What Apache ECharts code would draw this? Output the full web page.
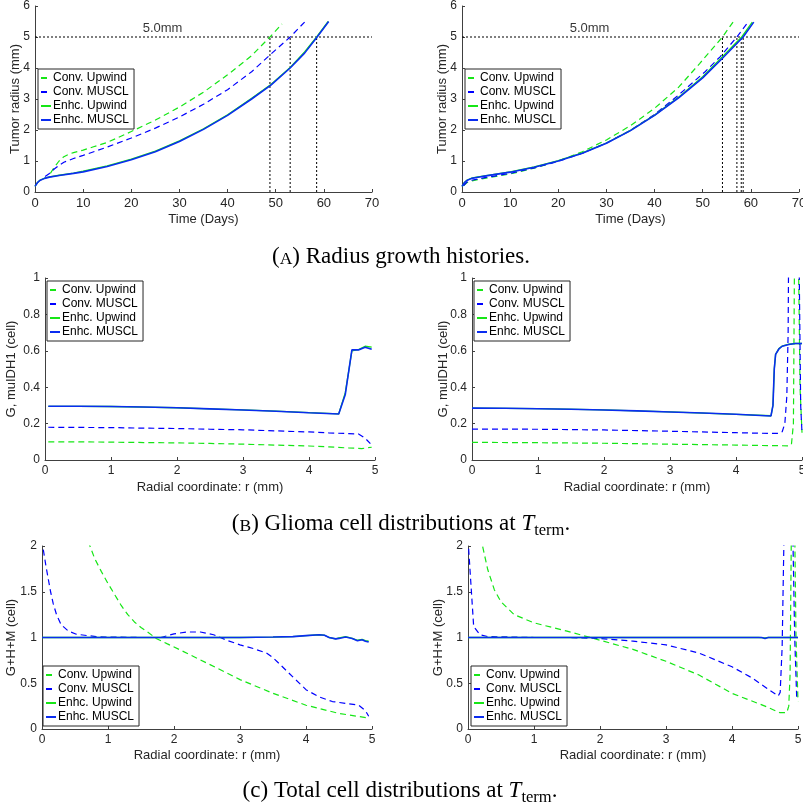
<!DOCTYPE html>
<html>
<head>
<meta charset="utf-8">
<script src="https://cdn.jsdelivr.net/npm/echarts@6/dist/echarts.min.js"></script>
<style>
  html, body { margin: 0; padding: 0; background: #fff; }
  #chart { width: 803px; height: 808px; }
</style>
</head>
<body>
<div id="chart"></div>
<script>
// ---------------- data ----------------
const seriesNames = ['Conv. Upwind', 'Conv. MUSCL', 'Enhc. Upwind', 'Enhc. MUSCL'];

// (A) radius growth histories: [time (days), radius (mm)]
const a1ConvUpwind = [[3.2,0.6],[4,0.8],[5,1.0],[6,1.14],[7,1.22],[8,1.27],[10,1.35],[12,1.45],[15,1.6],[20,1.95],[25,2.32],[30,2.74],[35,3.22],[40,3.78],[45,4.4],[48.8,5.0],[51.3,5.42]];
const a1ConvMuscl  = [[2.1,0.5],[3,0.6],[4,0.74],[5,0.86],[6,0.96],[8,1.08],[10,1.18],[15,1.45],[20,1.74],[25,2.06],[30,2.42],[35,2.83],[40,3.3],[45,3.88],[48.8,4.42],[53,5.0],[56,5.48]];
const a1EnhcUpwind = [[0,0.18],[0.5,0.3],[1,0.38],[2,0.45],[3,0.49],[5,0.54],[8,0.61],[10,0.67],[15,0.84],[20,1.06],[25,1.32],[30,1.65],[35,2.04],[40,2.49],[45,3.02],[49,3.47],[53,4.02],[56,4.52],[58.5,5.0],[60.9,5.5]];
const a1EnhcMuscl  = [[0,0.18],[0.5,0.3],[1,0.37],[2,0.44],[3,0.48],[5,0.53],[8,0.6],[10,0.65],[15,0.82],[20,1.04],[25,1.3],[30,1.63],[35,2.02],[40,2.47],[45,3.0],[49,3.45],[53,4.0],[56,4.48],[58.6,5.0],[61,5.5]];
const a1Crossing   = [48.8, 53.0, 58.5];

const a2ConvUpwind = [[0.3,0.2],[1,0.3],[2,0.36],[5,0.45],[10,0.58],[15,0.77],[20,1.0],[25,1.3],[30,1.68],[35,2.14],[40,2.7],[45,3.38],[49.4,4.15],[54.1,5.0],[56.3,5.48]];
const a2ConvMuscl  = [[0.3,0.2],[1,0.32],[2,0.38],[5,0.47],[10,0.6],[15,0.78],[20,0.99],[25,1.25],[30,1.58],[35,1.99],[40,2.5],[45,3.13],[50.5,3.88],[53.6,4.36],[57.1,5.0],[59.4,5.48]];
const a2EnhcUpwind = [[0,0.18],[0.5,0.31],[1,0.38],[2,0.45],[3,0.48],[5,0.53],[10,0.65],[15,0.81],[20,1.01],[25,1.26],[30,1.58],[35,1.99],[40,2.48],[45,3.06],[50,3.72],[54,4.35],[58.1,5.0],[60.3,5.48]];
const a2EnhcMuscl  = [[0,0.18],[0.5,0.3],[1,0.37],[2,0.44],[3,0.47],[5,0.52],[10,0.64],[15,0.8],[20,1.0],[25,1.25],[30,1.57],[35,1.98],[40,2.47],[45,3.04],[50,3.68],[54,4.3],[58.4,5.0],[60.6,5.48]];
const a2Crossing   = [54.1, 57.1, 58.0, 58.4];

const thresholdRadius   = 5.0;
const thresholdLabel    = '5.0mm';
const thresholdLabelDay = 26.5;

// (B) glioma cell distributions: [r (mm), G]
const b1ConvUpwind = [[0.05,0.1],[0.5,0.1],[1,0.098],[1.5,0.096],[2,0.094],[2.5,0.091],[3,0.087],[3.5,0.082],[4,0.077],[4.3,0.072],[4.6,0.066],[4.8,0.063],[4.95,0.07]];
const b1ConvMuscl  = [[0.05,0.18],[0.5,0.179],[1,0.178],[1.5,0.175],[2,0.173],[2.5,0.169],[3,0.166],[3.5,0.16],[4,0.154],[4.3,0.149],[4.6,0.145],[4.75,0.143],[4.85,0.12],[4.93,0.09]];
const b1EnhcUpwind = [[0.05,0.295],[0.5,0.295],[1,0.294],[1.5,0.291],[2,0.287],[2.5,0.281],[3,0.275],[3.5,0.268],[4,0.26],[4.45,0.253],[4.55,0.37],[4.65,0.6],[4.75,0.607],[4.85,0.625],[4.95,0.62]];
const b1EnhcMuscl  = [[0.05,0.295],[0.5,0.295],[1,0.294],[1.5,0.291],[2,0.287],[2.5,0.281],[3,0.275],[3.5,0.268],[4,0.26],[4.45,0.253],[4.55,0.36],[4.65,0.605],[4.75,0.605],[4.85,0.62],[4.95,0.608]];

const b2ConvUpwind = [[0,0.097],[1,0.095],[2,0.092],[3,0.087],[4,0.082],[4.5,0.079],[4.8,0.078],[4.84,0.085],[4.87,0.2],[4.89,1.3],[4.94,1.3],[4.97,0.4],[5,0.15]];
const b2ConvMuscl  = [[0,0.17],[1,0.169],[2,0.165],[3,0.158],[4,0.15],[4.5,0.146],[4.65,0.146],[4.7,0.155],[4.74,0.2],[4.77,0.35],[4.79,0.7],[4.8,1.3],[4.95,1.3],[4.98,0.3],[5,0.15]];
const b2EnhcUpwind = [[0,0.285],[1,0.282],[2,0.275],[3,0.264],[4,0.251],[4.53,0.243],[4.56,0.3],[4.58,0.5],[4.6,0.58],[4.65,0.612],[4.7,0.626],[4.8,0.636],[4.9,0.64],[5,0.64]];
const b2EnhcMuscl  = [[0,0.285],[0.5,0.284],[1,0.282],[1.5,0.279],[2,0.275],[2.5,0.27],[3,0.264],[3.5,0.258],[4,0.251],[4.3,0.246],[4.53,0.242],[4.56,0.3],[4.58,0.5],[4.6,0.58],[4.65,0.61],[4.7,0.625],[4.8,0.635],[4.9,0.64],[5,0.64]];

// (C) total cell distributions: [r (mm), G+H+M]
const c1ConvUpwind = [[0.7,2.05],[0.8,1.86],[0.9,1.72],[1.0,1.59],[1.1,1.47],[1.2,1.35],[1.3,1.25],[1.4,1.17],[1.5,1.11],[1.6,1.06],[1.73,0.99],[1.9,0.93],[2.09,0.865],[2.5,0.72],[3.0,0.54],[3.5,0.39],[4.0,0.26],[4.5,0.17],[4.95,0.12]];
const c1ConvMuscl  = [[0.02,1.96],[0.06,1.78],[0.09,1.66],[0.13,1.5],[0.17,1.37],[0.22,1.25],[0.29,1.14],[0.4,1.07],[0.52,1.036],[0.7,1.02],[0.82,1.01],[1,1.005],[1.5,1.0],[1.8,1.0],[2.0,1.04],[2.2,1.06],[2.4,1.06],[2.6,1.03],[2.8,0.97],[3.0,0.92],[3.2,0.88],[3.4,0.83],[3.5,0.78],[3.6,0.71],[3.8,0.57],[4.0,0.43],[4.2,0.35],[4.4,0.3],[4.6,0.28],[4.8,0.26],[4.9,0.2],[4.95,0.14]];
const c1EnhcUpwind = [[0,1],[1,1],[2,1],[3,1],[3.5,1.005],[3.8,1.01],[4.0,1.02],[4.2,1.03],[4.28,1.025],[4.35,1.0],[4.45,0.985],[4.5,0.995],[4.6,1.01],[4.7,0.99],[4.78,0.97],[4.85,0.98],[4.9,0.965],[4.95,0.96]];
const c1EnhcMuscl  = [[0,1],[1,1],[2,1],[3,1],[3.5,1.005],[3.8,1.01],[4.0,1.02],[4.2,1.03],[4.28,1.025],[4.35,1.0],[4.45,0.985],[4.5,0.99],[4.6,1.005],[4.7,0.99],[4.78,0.965],[4.85,0.975],[4.9,0.96],[4.95,0.95]];

const c2ConvUpwind = [[0.2,2.1],[0.22,2.0],[0.3,1.74],[0.4,1.52],[0.5,1.39],[0.7,1.25],[1,1.16],[1.5,1.07],[2,0.97],[2.5,0.87],[3,0.74],[3.5,0.59],[4,0.39],[4.5,0.25],[4.72,0.18],[4.83,0.18],[4.86,0.25],[4.88,0.6],[4.9,2.2],[4.95,2.2],[4.97,1.0],[5.0,0.3]];
const c2ConvMuscl  = [[0.01,1.97],[0.05,1.52],[0.086,1.12],[0.18,1.03],[0.3,1.01],[1,1.0],[1.5,1.0],[2,0.99],[2.5,0.96],[3,0.92],[3.5,0.83],[4,0.68],[4.3,0.56],[4.5,0.46],[4.7,0.36],[4.73,0.4],[4.76,0.9],[4.79,2.2],[4.92,2.2],[4.95,1.0],[4.98,0.35]];
const c2EnhcUpwind = [[0,1],[1,1],[2,1],[3,1],[4,1.0],[4.4,1.0],[4.5,0.995],[4.55,1.0],[5,1]];
const c2EnhcMuscl  = [[0,1],[1,1],[2,1],[3,1],[4,1.0],[4.45,1.0],[4.5,0.99],[4.55,1.0],[5,1]];

// axis names
const timeAxisName   = 'Time (Days)';
const radiusAxisName = 'Tumor radius (mm)';
const radialAxisName = 'Radial coordinate: r (mm)';
const gliomaAxisName = 'G, muIDH1 (cell)';
const totalAxisName  = 'G+H+M (cell)';

// ---------------- styling ----------------
const FONT = '"Liberation Sans", Arial, Helvetica, sans-serif';
const SERIF = '"Liberation Serif", "Times New Roman", serif';
const INK = '#262626';
const GREEN = '#16e616';
const BLUE = '#0000ff';
const DASH = [6, 4];

const lineStyles = [
  { color: GREEN, type: DASH, width: 1.2 },
  { color: BLUE,  type: DASH, width: 1.2 },
  { color: GREEN, type: 'solid', width: 1.3 },
  { color: '#0a2cf0', type: 'solid', width: 1.6 }
];

const panels = [
  { grid: { left: 35, top: 6, width: 337, height: 186 }, tickFont: 13,
    x: { max: 70, interval: 10, name: timeAxisName, gap: 21 },
    y: { max: 6, interval: 1, name: radiusAxisName, gap: 13 },
    legend: { left: 38, top: 69 },
    data: [a1ConvUpwind, a1ConvMuscl, a1EnhcUpwind, a1EnhcMuscl], crossing: a1Crossing },
  { grid: { left: 462, top: 6, width: 337, height: 186 }, tickFont: 13,
    x: { max: 70, interval: 10, name: timeAxisName, gap: 21 },
    y: { max: 6, interval: 1, name: radiusAxisName, gap: 13 },
    legend: { left: 465, top: 69 },
    data: [a2ConvUpwind, a2ConvMuscl, a2EnhcUpwind, a2EnhcMuscl], crossing: a2Crossing },
  { grid: { left: 45, top: 278, width: 330, height: 182 }, tickFont: 12,
    x: { max: 5, interval: 1, name: radialAxisName, gap: 21 },
    y: { max: 1, interval: 0.2, name: gliomaAxisName, gap: 27 },
    legend: { left: 47, top: 281 },
    data: [b1ConvUpwind, b1ConvMuscl, b1EnhcUpwind, b1EnhcMuscl] },
  { grid: { left: 472, top: 278, width: 330, height: 182 }, tickFont: 12,
    x: { max: 5, interval: 1, name: radialAxisName, gap: 21 },
    y: { max: 1, interval: 0.2, name: gliomaAxisName, gap: 22 },
    legend: { left: 474, top: 281 },
    data: [b2ConvUpwind, b2ConvMuscl, b2EnhcUpwind, b2EnhcMuscl] },
  { grid: { left: 42, top: 546, width: 330, height: 183 }, tickFont: 12,
    x: { max: 5, interval: 1, name: radialAxisName, gap: 20 },
    y: { max: 2, interval: 0.5, name: totalAxisName, gap: 24 },
    legend: { left: 43, top: 666 },
    data: [c1ConvUpwind, c1ConvMuscl, c1EnhcUpwind, c1EnhcMuscl] },
  { grid: { left: 468, top: 546, width: 330, height: 183 }, tickFont: 12,
    x: { max: 5, interval: 1, name: radialAxisName, gap: 20 },
    y: { max: 2, interval: 0.5, name: totalAxisName, gap: 23 },
    legend: { left: 471, top: 666 },
    data: [c2ConvUpwind, c2ConvMuscl, c2EnhcUpwind, c2EnhcMuscl] }
];

function axisCommon(name, gap, tickFont) {
  return {
    type: 'value', min: 0, name: name, nameLocation: 'middle', nameGap: gap,
    nameMoveOverlap: false,
    nameTextStyle: { fontFamily: FONT, fontSize: 13, color: INK },
    axisLine: { show: true, onZero: false, lineStyle: { color: '#404040', width: 1 } },
    axisTick: { show: true, inside: true, length: 3, lineStyle: { color: '#404040' } },
    axisLabel: { fontFamily: FONT, fontSize: tickFont, color: INK, margin: 5, showMinLabel: true, showMaxLabel: true },
    splitLine: { show: false }
  };
}

const grids = [], xAxes = [], yAxes = [], series = [], legends = [];
panels.forEach((p, i) => {
  grids.push(Object.assign({ outerBoundsMode: 'none', containLabel: false }, p.grid));
  xAxes.push(Object.assign(axisCommon(p.x.name, p.x.gap, p.tickFont), { gridIndex: i, max: p.x.max, interval: p.x.interval }));
  yAxes.push(Object.assign(axisCommon(p.y.name, p.y.gap, 12), { gridIndex: i, max: p.y.max, interval: p.y.interval }));

  p.data.forEach((d, k) => {
    series.push({
      type: 'line', name: seriesNames[k], xAxisIndex: i, yAxisIndex: i,
      data: d, symbol: 'none', smooth: false, clip: true,
      lineStyle: lineStyles[k], itemStyle: { color: lineStyles[k].color },
      z: 3 + k
    });
  });

  if (p.crossing) {
    const dotted = { color: '#000', type: [2, 2], width: 1 };
    series.push({
      type: 'line', xAxisIndex: i, yAxisIndex: i, symbol: 'none', silent: true, z: 2,
      data: [[0, thresholdRadius], [p.x.max, thresholdRadius]], lineStyle: dotted
    });
    p.crossing.forEach(t => {
      series.push({
        type: 'line', xAxisIndex: i, yAxisIndex: i, symbol: 'none', silent: true, z: 2,
        data: [[t, 0], [t, thresholdRadius]], lineStyle: dotted
      });
    });
    series.push({
      type: 'scatter', xAxisIndex: i, yAxisIndex: i, symbolSize: 0, silent: true,
      data: [[thresholdLabelDay, thresholdRadius]],
      label: { show: true, position: 'top', distance: 2, formatter: thresholdLabel,
               fontFamily: FONT, fontSize: 13, color: '#000' }
    });
  }

  // legend keys are drawn as short line samples only (no marker dot)
  legends.push({
    data: seriesNames, orient: 'vertical', left: p.legend.left, top: p.legend.top,
    itemWidth: 10, itemHeight: 8, itemGap: 2, padding: [3, 5, 3, 2],
    borderColor: '#262626', borderWidth: 1, backgroundColor: '#fff',
    selectedMode: false,
    itemStyle: { color: 'rgba(0,0,0,0)', borderWidth: 0, opacity: 0 },
    textStyle: { fontFamily: FONT, fontSize: 12, color: '#000', padding: [0, 0, 0, -3] },
    z: 10
  });
});

// ---------------- captions ----------------
const measureCtx = document.createElement('canvas').getContext('2d');
function captionElements(pieces, centerX, y) {
  const widths = pieces.map(p => {
    measureCtx.font = (p.italic ? 'italic ' : '') + p.size + 'px ' + SERIF;
    return measureCtx.measureText(p.text).width;
  });
  const total = widths.reduce((a, b) => a + b, 0);
  let x = centerX - total / 2;
  return pieces.map((p, i) => {
    const el = {
      type: 'text', x: x, y: y + (p.dy || 0), silent: true,
      style: {
        text: p.text, fill: '#000',
        font: (p.italic ? 'italic ' : '') + p.size + 'px ' + SERIF,
        textAlign: 'left', verticalAlign: 'bottom'
      }
    };
    x += widths[i];
    return el;
  });
}

const captionA = [{ text: '(', size: 23 }, { text: 'A', size: 17.5 }, { text: ') Radius growth histories.', size: 23 }];
const captionB = [{ text: '(', size: 23 }, { text: 'B', size: 17.5 }, { text: ') Glioma cell distributions at ', size: 23 },
                  { text: 'T', size: 23, italic: true }, { text: 'term', size: 16.5, dy: 4 }, { text: '.', size: 23 }];
const captionC = [{ text: '(c) Total cell distributions at ', size: 23 },
                  { text: 'T', size: 23, italic: true }, { text: 'term', size: 16.5, dy: 4 }, { text: '.', size: 23 }];

const graphics = [].concat(
  captionElements(captionA, 401, 268),
  captionElements(captionB, 401, 535),
  captionElements(captionC, 400, 802)
);

const chart = echarts.init(document.getElementById('chart'), null, { renderer: 'canvas' });
chart.setOption({
  animation: false,
  backgroundColor: '#fff',
  textStyle: { fontFamily: FONT },
  grid: grids,
  xAxis: xAxes,
  yAxis: yAxes,
  legend: legends,
  series: series,
  graphic: graphics
});
</script>
</body>
</html>
